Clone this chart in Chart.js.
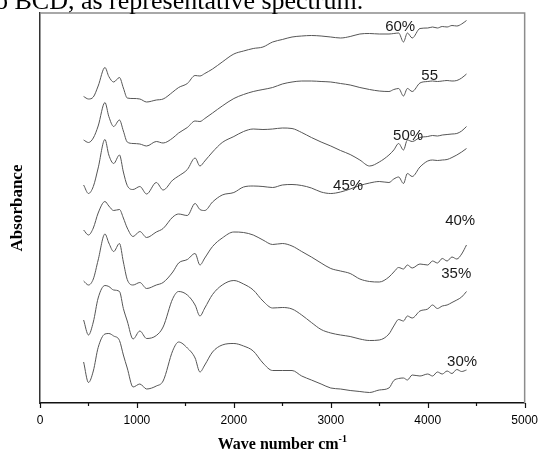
<!DOCTYPE html>
<html>
<head>
<meta charset="utf-8">
<script src="https://cdn.jsdelivr.net/npm/chart.js@4/dist/chart.umd.min.js"></script>
<style>
  html, body { margin: 0; padding: 0; background: #fff; }
  #wrap { position: relative; width: 548px; height: 452px; }
</style>
</head>
<body>
<div id="wrap"><canvas id="ftir" width="548" height="452"></canvas></div>
<script>
// wavenumbers (cm-1) shared by all spectra
const waveNumbers = [450, 500, 550, 600, 670, 710, 760, 820, 860, 900,
  960, 1030, 1100, 1200, 1270, 1370, 1430, 1520, 1600, 1650,
  1700, 1780, 1880, 2000, 2100, 2200, 2300, 2400, 2500, 2600,
  2700, 2800, 2900, 3000, 3100, 3200, 3300, 3400, 3500, 3600,
  3650, 3700, 3750, 3790, 3840, 3920, 4000, 4050, 4100, 4150,
  4200, 4250, 4300, 4350, 4400];

// stacked absorbance (offset, arbitrary units)
const abs60 = [306.5, 304, 306, 317, 335.5, 326.5, 321, 325.5, 315, 305,
  304.5, 304, 301, 303, 304, 311, 315.5, 319.5, 327.5, 327,
  329.5, 334, 341, 349, 352, 354.5, 356, 361, 363.5, 366,
  367, 367.5, 367, 366, 365, 366.5, 369, 369.5, 369, 369,
  369.5, 370, 361, 370, 365, 374.5, 375, 376, 375, 376.5,
  376, 377.5, 377, 379, 382.5];
const abs55 = [263, 260.5, 265, 277, 300.5, 286.5, 276.5, 283, 272, 261,
  259.5, 259, 257, 261.5, 260, 265, 270, 275.5, 282, 281.5,
  284.5, 290, 297, 304.5, 308.5, 311.5, 313.5, 315.5, 319, 321,
  322, 322, 321.5, 321, 319.5, 318, 315.5, 313.5, 312, 311.5,
  313.5, 314.5, 307, 314.5, 311.5, 320, 321.5, 322, 321.5, 322,
  322.5, 322, 322.5, 325, 329];
const abs50 = [218, 209.5, 216.5, 235, 263.5, 248, 239.5, 248, 231, 217.5,
  213.5, 216.5, 209, 220.5, 213, 223, 227, 233.5, 245, 237,
  242, 251, 260.5, 266.5, 271.5, 274, 273.5, 274, 275, 274.5,
  270.5, 265.5, 261, 257, 252.5, 248.5, 243, 237, 241, 248,
  253, 259.5, 253, 263, 261.5, 265.5, 266.5, 267.5, 267, 268,
  268.5, 269, 269.5, 272, 276.5];
const abs45 = [173, 168, 175, 190, 201.5, 197, 192.5, 193.5, 185, 175,
  166.5, 171.5, 165.5, 171, 174.5, 186, 189, 187.5, 199.5, 193.5,
  192.5, 201, 208, 210.5, 216, 217, 216.5, 215.5, 218, 218.5,
  217.5, 215, 211, 209.5, 211, 214, 217.5, 220, 221.5, 220.5,
  224, 226, 219.5, 229.5, 226.5, 236, 242, 243, 242.5, 243,
  243.5, 245.5, 248, 251, 254.5];
const abs40 = [122, 118, 124, 143, 169, 160, 151.5, 159.5, 141, 123.5,
  118, 120.5, 114.5, 118, 120.5, 131, 140, 143.5, 149.5, 138,
  145, 156.5, 165, 171, 170.5, 168, 163, 158.5, 159.5, 157,
  151.5, 146, 140, 134.5, 132, 129.5, 124, 121.5, 121, 126,
  131, 135.5, 134, 138, 135, 139, 138, 142, 140, 144.5,
  142, 146, 144, 149, 158];
const abs35 = [83, 68, 81, 105, 117.5, 116.5, 113, 111.5, 94.5, 82,
  64, 72, 64.5, 67.5, 76, 104.5, 111.5, 108, 98, 87,
  95, 108.5, 118, 122.5, 119, 113, 102, 95, 95.5, 94,
  88, 80.5, 73.5, 70, 68, 66.5, 64, 62.5, 63, 69,
  77, 83.5, 82, 87, 85, 92, 94, 98, 94.5, 97,
  98, 100.5, 103, 106, 111.5];
const abs30 = [41, 20.5, 32, 55.5, 69, 69.5, 67, 62.5, 48, 35,
  16, 19, 14, 17, 22, 52.5, 61, 55, 45, 31,
  38, 51, 58, 59.5, 57, 52, 40, 32.5, 32.5, 32.5,
  27, 23, 19, 15, 14, 12.5, 11.5, 10.5, 13, 15,
  22.5, 24.5, 25, 23, 28, 27, 29, 27, 31, 29,
  32, 29.5, 33.5, 31.5, 33];

const seriesNames = ['60%', '55', '50%', '45%', '40%', '35%', '30%'];
// where each series name is written (wavenumber, offset absorbance)
const nameWave = [3716, 4020, 3797, 3178, 4335, 4294, 4355];
const nameLevel = [376, 327, 267, 217, 182, 129, 41];
const xTickValues = [0, 1000, 2000, 3000, 4000, 5000];

const spectra = [abs60, abs55, abs50, abs45, abs40, abs35, abs30];

const datasets = spectra.map(function (ys, i) {
  return {
    label: seriesNames[i],
    data: waveNumbers.map(function (w, j) { return { x: w, y: ys[j] }; }),
    borderColor: '#555',
    borderWidth: 1,
    pointRadius: 0,
    fill: false,
    cubicInterpolationMode: 'monotone'
  };
});

// frame, minor ticks, curve names, axis title and the caption line on top
const decorations = {
  id: 'decorations',
  afterDraw: function (chart) {
    const ctx = chart.ctx;
    const a = chart.chartArea;
    const xs = chart.scales.x;
    const ys = chart.scales.y;
    ctx.save();

    ctx.strokeStyle = '#8c8c8c';
    ctx.lineWidth = 1.5;
    ctx.beginPath();
    ctx.moveTo(a.left, a.top);
    ctx.lineTo(a.right, a.top);
    ctx.lineTo(a.right, a.bottom);
    ctx.stroke();

    ctx.strokeStyle = '#111';
    ctx.lineWidth = 1.2;
    for (let v = 0; v <= 5000; v += 500) {
      const px = Math.round(xs.getPixelForValue(v)) + 0.5;
      const len = v % 1000 === 0 ? 5 : 3;
      ctx.beginPath();
      ctx.moveTo(px, a.bottom);
      ctx.lineTo(px, a.bottom + len);
      ctx.stroke();
    }

    ctx.fillStyle = '#1a1a1a';
    ctx.font = '15px "Liberation Sans", Arial, sans-serif';
    ctx.textAlign = 'center';
    ctx.textBaseline = 'middle';
    seriesNames.forEach(function (name, i) {
      ctx.fillText(name, xs.getPixelForValue(nameWave[i]), ys.getPixelForValue(nameLevel[i]));
    });

    // x title with superscript
    const main = 'Wave number cm';
    const sup = '-1';
    ctx.fillStyle = '#000';
    ctx.textBaseline = 'alphabetic';
    ctx.textAlign = 'left';
    ctx.font = 'bold 16px "Liberation Serif", "Times New Roman", serif';
    const wMain = ctx.measureText(main).width;
    ctx.font = 'bold 10px "Liberation Serif", "Times New Roman", serif';
    const wSup = ctx.measureText(sup).width;
    const cx = (a.left + a.right) / 2;
    const startX = cx - (wMain + wSup) / 2;
    ctx.font = 'bold 16px "Liberation Serif", "Times New Roman", serif';
    ctx.fillText(main, startX, 449);
    ctx.font = 'bold 10px "Liberation Serif", "Times New Roman", serif';
    ctx.fillText(sup, startX + wMain, 442);

    // text of the page line above the figure
    ctx.font = '26px "Liberation Serif", "Times New Roman", serif';
    ctx.fillText('o BCD, as representative spectrum.', -5, 9);

    ctx.restore();
  }
};

new Chart(document.getElementById('ftir'), {
  type: 'line',
  data: { datasets: datasets },
  plugins: [decorations],
  options: {
    responsive: false,
    animation: false,
    layout: { padding: { top: 13, right: 16, left: 0, bottom: 0 } },
    plugins: {
      legend: { display: false },
      tooltip: { enabled: false }
    },
    scales: {
      x: {
        type: 'linear',
        min: 0,
        max: 5000,
        afterFit: function (scale) { scale.height = 49; },
        afterBuildTicks: function (scale) {
          scale.ticks = xTickValues.map(function (v) { return { value: v }; });
        },
        grid: { display: false, drawTicks: false },
        border: { display: true, color: '#111', width: 1.5 },
        ticks: {
          padding: 10,
          color: '#000',
          font: { family: '"Liberation Sans", Arial, sans-serif', size: 12 },
          maxRotation: 0,
          callback: function (v) { return String(v); }
        }
      },
      y: {
        min: 0,
        max: 390,
        afterFit: function (scale) { scale.width = 40; },
        grid: { display: false, drawTicks: false },
        border: { display: true, color: '#333', width: 1.5 },
        ticks: { display: false },
        title: {
          display: true,
          text: 'Absorbance',
          color: '#000',
          padding: { top: 7, bottom: 0 },
          font: { family: '"Liberation Serif", "Times New Roman", serif', size: 17, weight: 'bold' }
        }
      }
    }
  }
});
</script>
</body>
</html>
